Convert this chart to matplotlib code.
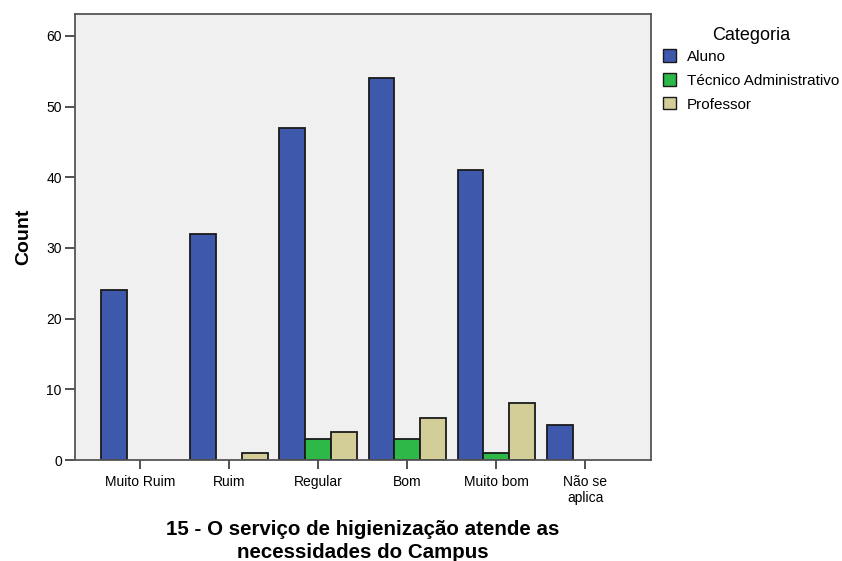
import matplotlib
matplotlib.use('Agg')
import matplotlib.pyplot as plt
from matplotlib.patches import Patch
import numpy as np

# Data
categories = ['Muito Ruim', 'Ruim', 'Regular', 'Bom', 'Muito bom', 'Não se\naplica']
aluno = [24, 32, 47, 54, 41, 5]
tecnico = [0, 0, 3, 3, 1, 0]
professor = [0, 1, 4, 6, 8, 0]
series_names = ['Aluno', 'Técnico Administrativo', 'Professor']
series_colors = ['#3e58ac', '#2eb848', '#d3ce97']

plt.rcParams['font.family'] = ['Liberation Sans', 'DejaVu Sans']

fig = plt.figure(figsize=(8.42, 5.61), dpi=100)
ax = fig.add_axes([0.0891, 0.18, 0.6835, 0.795], facecolor='#f0f0f0')

x = np.arange(len(categories))
w = 0.29
for off, vals, col in zip([-w, 0, w], [aluno, tecnico, professor], series_colors):
    v = np.array(vals)
    keep = v > 0
    ax.bar(x[keep] + off, v[keep], width=w, color=col, edgecolor='#1a1a1a', linewidth=1.3)

ax.set_xlim(-0.73, 5.73)
ax.set_ylim(0, 63.1)
ax.set_yticks(range(0, 61, 10))
ax.set_xticks(x)
ax.set_xticklabels(categories, fontsize=10)
ax.tick_params(axis='y', labelsize=10, length=7.5, width=1.2, color='#333333', pad=2)
ax.tick_params(axis='x', length=6.5, width=1.2, color='#333333', pad=4)
for s in ax.spines.values():
    s.set_color('#555555')
    s.set_linewidth(1.3)

ax.set_ylabel('Count', fontsize=14, fontweight='bold', labelpad=10)
ax.set_xlabel('15 - O serviço de higienização atende as\nnecessidades do Campus',
              fontsize=14.8, fontweight='bold', labelpad=11, linespacing=1.25)

handles = [Patch(facecolor=c, edgecolor='#1a1a1a', label=n) for c, n in zip(series_colors, series_names)]
leg = fig.legend(handles=handles, title='Categoria', loc='upper left',
                 bbox_to_anchor=(0.788, 0.952), frameon=False, fontsize=11,
                 title_fontsize=13, handlelength=0.85, handleheight=0.85,
                 handletextpad=0.7, labelspacing=0.62, borderaxespad=0,
                 borderpad=0)
leg._legend_box.sep = 4

fig.savefig('out.png', dpi=100)
